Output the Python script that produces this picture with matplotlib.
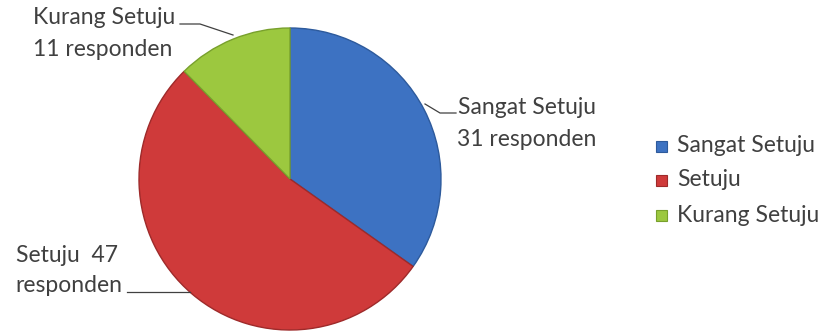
import matplotlib
matplotlib.use("Agg")
import matplotlib.pyplot as plt
from matplotlib.patches import Rectangle

categories = ["Sangat Setuju", "Setuju", "Kurang Setuju"]
responden = [31, 47, 11]
colors = ["#3d72c2", "#cf3a3a", "#9cc83f"]
edge_colors = ["#2d5a9c", "#9e2a2a", "#78a02c"]
slice_labels = ["Sangat Setuju\n31 responden", "Setuju  47\nresponden", "Kurang Setuju\n11 responden"]

plt.rcParams["font.family"] = ["Lato", "DejaVu Sans"]
text_color = "#404040"

W, H = 822, 334
fig = plt.figure(figsize=(W / 100, H / 100), dpi=100)
ax = fig.add_axes([0, 0, 1, 1])

cx, cy, r = 290, H - 179, 151
wedges, _ = ax.pie(responden, colors=colors, startangle=90, counterclock=False,
                   center=(cx, cy), radius=r,
                   wedgeprops=dict(linewidth=1.0))
for w, ec in zip(wedges, edge_colors):
    w.set_edgecolor(ec)

ax.set_xlim(0, W)
ax.set_ylim(0, H)
ax.set_aspect("equal")
ax.axis("off")

fs = 16.5

# Sangat Setuju label with leader
top, bottom = slice_labels[0].split("\n")
ax.plot([425, 440, 456], [H - 104, H - 113, H - 113], color=text_color, lw=0.9)
ax.text(458, H - 108, top, fontsize=fs, color=text_color, ha="left", va="center")
ax.text(457, H - 140, bottom, fontsize=fs, color=text_color, ha="left", va="center")

# Setuju label with leader
top, bottom = slice_labels[1].split("\n")
ax.plot([127, 190], [H - 292, H - 292], color=text_color, lw=0.9)
ax.text(67, H - 255, top, fontsize=fs, color=text_color, ha="center", va="center")
ax.text(69, H - 286, bottom, fontsize=fs, color=text_color, ha="center", va="center")

# Kurang Setuju label with leader
top, bottom = slice_labels[2].split("\n")
ax.plot([180, 200, 233], [H - 24, H - 24, H - 35], color=text_color, lw=0.9)
ax.text(33, H - 18, top, fontsize=fs, color=text_color, ha="left", va="center")
ax.text(33, H - 49, bottom, fontsize=fs, color=text_color, ha="left", va="center")

# Legend
legend_y = [146, 180, 215]
for lab, c, ec, y in zip(categories, colors, edge_colors, legend_y):
    ax.add_patch(Rectangle((656, H - y - 5.5), 11, 11, facecolor=c, edgecolor=ec, lw=0.8))
    ax.text(677, H - y, lab, fontsize=fs, color=text_color, ha="left", va="center")

fig.savefig("out.png", dpi=100)
